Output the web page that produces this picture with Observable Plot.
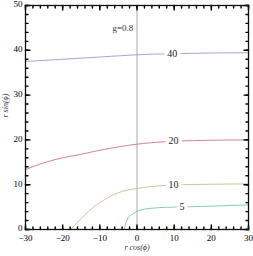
<!DOCTYPE html>
<html><head><meta charset="utf-8">
<script src="https://cdn.jsdelivr.net/npm/d3@7"></script>
<script src="https://cdn.jsdelivr.net/npm/@observablehq/plot@0.6"></script>
<style>body{margin:0;background:#fff}svg{display:block}</style>
</head><body><div id="c"></div>
<script>
const xs40 = [-30,-20,-10,0,10,20,30];
const ys40 = [37.5,38.0,38.5,39.0,39.25,39.4,39.45];
const xs20 = [-30,-25,-20,-15,-10,-5,0,5,10,15,20,25,30];
const ys20 = [13.4,14.9,16.0,16.8,17.7,18.45,19.05,19.45,19.7,19.85,19.92,19.97,20.0];
const xs10 = [-17.9,-16,-14,-12,-10,-8,-6,-4,-2,0,2,4,6,8,10,15,20,25,30];
const ys10 = [0,1.6,3.3,4.8,6.0,7.0,7.9,8.5,8.9,9.15,9.4,9.6,9.75,9.85,9.95,10.05,10.1,10.15,10.2];
const xs5 = [-3.4,-3.2,-2.8,-2.3,-1.5,-0.9,0,1,2,4,6,8,10,15,20,25,30];
const ys5 = [0,1.0,1.9,2.7,3.3,3.6,4.05,4.35,4.55,4.75,4.88,4.95,5.0,5.1,5.2,5.35,5.5];
const curveNames = ["40","20","10","5"];
const curveColors = ["#9a9ad8","#cc70a4","#cdbb84","#78c89a"];
const labelX = [9.5,9.8,9.8,12.1];
const labelY = [39.25,19.7,9.95,5.08];
const majorTicks = [-30,-20,-10,0,10,20,30];
const majorYTicks = [0,10,20,30,40,50];
const minorXTicks = d3.range(-30,31,2);
const minorYTicks = d3.range(0,51,2);
const noteText = "g=0.8";
const noteX = -1, noteY = 45;

const series = [[xs40,ys40],[xs20,ys20],[xs10,ys10],[xs5,ys5]];
const rows = series.flatMap(([xs,ys],i)=>xs.map((x,j)=>({x, y: ys[j], k: curveNames[i]})));
const labels = curveNames.map((k,i)=>({x: labelX[i], y: labelY[i], k}));
const font = "Liberation Serif";
const tickShape = {draw(context, l) { context.moveTo(0, 0); context.lineTo(0, -l); }};
const tk = {anchor: "start", shape: tickShape, stroke: "#000", strokeWidth: 1.4};
const ticksX = (vals, len) => [
  Plot.vector(vals, {x: d => d, frameAnchor: "bottom", length: len, rotate: 0, ...tk}),
  Plot.vector(vals, {x: d => d, frameAnchor: "top", length: len, rotate: 180, ...tk})
];
const ticksY = (vals, len) => [
  Plot.vector(vals, {y: d => d, frameAnchor: "left", length: len, rotate: 90, ...tk}),
  Plot.vector(vals, {y: d => d, frameAnchor: "right", length: len, rotate: -90, ...tk})
];

const plot = Plot.plot({
  width: 253, height: 256,
  marginLeft: 25, marginRight: 5, marginTop: 5, marginBottom: 27,
  style: {fontFamily: font, fontSize: "9px", background: "#fff"},
  x: {domain: [-30,30]},
  y: {domain: [0,50]},
  color: {domain: curveNames, range: curveColors},
  marks: [
    Plot.ruleX([0], {stroke: "#aaa", strokeWidth: 1}),
    Plot.line(rows, {x: "x", y: "y", z: "k", stroke: "k", strokeWidth: 0.9, curve: "monotone-x"}),
    Plot.text(labels, {x: "x", y: "y", text: "k", fill: "#222", stroke: "white", strokeWidth: 7, fontSize: 10, fontFamily: font}),
    Plot.text([noteText], {x: [noteX], y: [noteY], textAnchor: "end", fill: "#333", fontSize: 9, fontFamily: font}),
    Plot.axisX({ticks: majorTicks, tickSize: 0, tickPadding: 5, label: null, fontSize: 9}),
    Plot.axisY({ticks: majorYTicks, tickSize: 0, tickPadding: 3, label: null, fontSize: 9, dy: -1}),
    ...ticksX(minorXTicks, 2.5),
    ...ticksX(majorTicks, 4.5),
    ...ticksY(minorYTicks, 2.5),
    ...ticksY(majorYTicks, 4.5),
    Plot.frame({stroke: "#111", strokeWidth: 1.3}),
    Plot.text(["r cos(ϕ)"], {frameAnchor: "bottom", dy: 20, fontStyle: "italic", fontSize: 8, fill: "#333"}),
    Plot.text(["r sin(ϕ)"], {frameAnchor: "left", dx: -20, rotate: -90, fontStyle: "italic", fontSize: 8, fill: "#333"})
  ]
});
document.getElementById("c").appendChild(plot);
</script>
</body></html>
